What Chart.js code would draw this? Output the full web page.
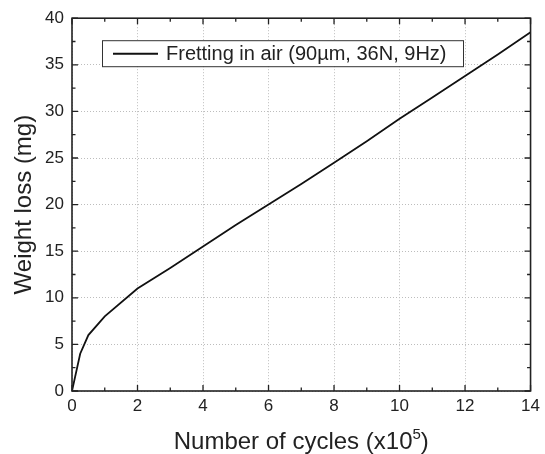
<!DOCTYPE html>
<html>
<head>
<meta charset="utf-8">
<script src="https://cdn.jsdelivr.net/npm/chart.js@4.4.0/dist/chart.umd.min.js"></script>
<style>
  html, body { margin: 0; padding: 0; background: #fff; }
  #wrap { width: 545px; height: 454px; }
</style>
</head>
<body>
<div id="wrap"><canvas id="grafico" width="545" height="454"></canvas></div>
<script>
// datos
var CICLOS = [0, 0.25, 0.5, 1, 2, 3, 4, 5, 6, 7, 8, 9, 10, 11, 12, 13, 14];
var PERDIDA = [0, 4, 6, 8, 11, 13.2, 15.5, 17.8, 20, 22.2, 24.5, 26.8, 29.2, 31.5, 33.8, 36.1, 38.5];
var TICKS_X = [0, 2, 4, 6, 8, 10, 12, 14];
var TICKS_Y = [0, 5, 10, 15, 20, 25, 30, 35, 40];
var MENOR_X = [1, 3, 5, 7, 9, 11, 13];
var MENOR_Y = [2.5, 7.5, 12.5, 17.5, 22.5, 27.5, 32.5, 37.5];
var ETIQUETA = "Fretting in air (90\u00b5m, 36N, 9Hz)";

var FUENTE = '"Liberation Sans", Arial, sans-serif';
var TINTA = '#222';

var puntos = CICLOS.map(function (c, i) { return { x: c, y: PERDIDA[i] }; });

// marco, ticks hacia adentro, leyenda y titulo x con superindice
var extras = {
    id: 'extras',
    afterDraw: function (chart) {
        var ctx = chart.ctx;
        var a = chart.chartArea;
        var sx = chart.scales.x, sy = chart.scales.y;
        ctx.save();
        ctx.strokeStyle = TINTA;
        ctx.lineWidth = 1.6;
        ctx.strokeRect(a.left, a.top, a.right - a.left, a.bottom - a.top);

        ctx.lineWidth = 1.3;
        function marcaX(v, largo) {
            var px = sx.getPixelForValue(v);
            ctx.beginPath();
            ctx.moveTo(px, a.bottom); ctx.lineTo(px, a.bottom - largo);
            ctx.moveTo(px, a.top); ctx.lineTo(px, a.top + largo);
            ctx.stroke();
        }
        function marcaY(v, largo) {
            var py = sy.getPixelForValue(v);
            ctx.beginPath();
            ctx.moveTo(a.left, py); ctx.lineTo(a.left + largo, py);
            ctx.moveTo(a.right, py); ctx.lineTo(a.right - largo, py);
            ctx.stroke();
        }
        TICKS_X.forEach(function (v) { marcaX(v, 6); });
        MENOR_X.forEach(function (v) { marcaX(v, 3.5); });
        TICKS_Y.forEach(function (v) { marcaY(v, 6); });
        MENOR_Y.forEach(function (v) { marcaY(v, 3.5); });

        // leyenda
        var lx = a.left + 30, ly = a.top + 22, lw = 361, lh = 26;
        ctx.fillStyle = '#fff';
        ctx.fillRect(lx, ly, lw, lh);
        ctx.lineWidth = 1;
        ctx.strokeStyle = '#333';
        ctx.strokeRect(lx + 0.5, ly + 0.5, lw, lh);
        ctx.strokeStyle = '#111';
        ctx.lineWidth = 2;
        ctx.beginPath();
        ctx.moveTo(lx + 11, ly + lh / 2 + 0.5);
        ctx.lineTo(lx + 56, ly + lh / 2 + 0.5);
        ctx.stroke();
        ctx.fillStyle = TINTA;
        ctx.font = '20px ' + FUENTE;
        ctx.textBaseline = 'middle';
        ctx.textAlign = 'left';
        ctx.fillText(chart.data.datasets[0].label, lx + 64, ly + lh / 2 + 1);

        // titulo eje x
        var t1 = 'Number of cycles (x10', t2 = '5', t3 = ')';
        ctx.textBaseline = 'alphabetic';
        ctx.font = '24px ' + FUENTE;
        var w1 = ctx.measureText(t1).width, w3 = ctx.measureText(t3).width;
        ctx.font = '15px ' + FUENTE;
        var w2 = ctx.measureText(t2).width;
        var x0 = (a.left + a.right) / 2 - (w1 + w2 + w3) / 2;
        var base = 449;
        ctx.font = '24px ' + FUENTE;
        ctx.fillText(t1, x0, base);
        ctx.font = '15px ' + FUENTE;
        ctx.fillText(t2, x0 + w1, base - 10);
        ctx.font = '24px ' + FUENTE;
        ctx.fillText(t3, x0 + w1 + w2, base);
        ctx.restore();
    }
};

var ctx = document.getElementById('grafico').getContext('2d');
var grafico = new Chart(ctx, {
    type: 'line',
    data: {
        datasets: [{
            label: ETIQUETA,
            data: puntos,
            borderColor: '#111',
            borderWidth: 1.8,
            pointRadius: 0,
            tension: 0,
            fill: false
        }]
    },
    options: {
        responsive: false,
        animation: false,
        devicePixelRatio: 1,
        layout: { padding: { top: 14, right: 10, left: 0, bottom: 0 } },
        plugins: {
            legend: { display: false },
            tooltip: { enabled: false }
        },
        scales: {
            x: {
                type: 'linear',
                min: 0,
                max: 14,
                afterBuildTicks: function (s) { s.ticks = TICKS_X.map(function (v) { return { value: v }; }); },
                afterFit: function (s) { s.height = 63; },
                border: { display: false, dash: [1, 2] },
                grid: { color: '#bdbdbd', drawTicks: false, lineWidth: 1 },
                ticks: {
                    color: TINTA,
                    padding: 5,
                    maxRotation: 0,
                    font: { family: FUENTE, size: 17 }
                },
                title: { display: false }
            },
            y: {
                min: 0,
                max: 40,
                afterBuildTicks: function (s) { s.ticks = TICKS_Y.map(function (v) { return { value: v }; }); },
                afterFit: function (s) { s.width = 72; },
                border: { display: false, dash: [1, 2] },
                grid: { color: '#bdbdbd', drawTicks: false, lineWidth: 1 },
                ticks: {
                    color: TINTA,
                    padding: 8,
                    font: { family: FUENTE, size: 17 }
                },
                title: {
                    display: true,
                    text: 'Weight loss (mg)',
                    color: TINTA,
                    padding: { top: 10, bottom: 0 },
                    font: { family: FUENTE, size: 24 }
                }
            }
        }
    },
    plugins: [extras]
});
</script>
</body>
</html>
